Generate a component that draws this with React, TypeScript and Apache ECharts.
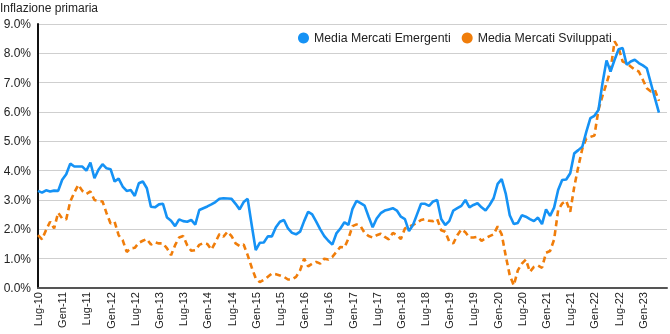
import React, { useEffect, useRef } from "react";
import * as echarts from "echarts";

const MONTHS_IT = ["Gen", "Feb", "Mar", "Apr", "Mag", "Giu", "Lug", "Ago", "Set", "Ott", "Nov", "Dic"];
// Monthly categories Jul-2010 .. Jul-2023
const categories: string[] = [];
for (let k = 0; k < 157; k++) {
  const m = (6 + k) % 12;
  const y = 10 + Math.floor((6 + k) / 12);
  categories.push(`${MONTHS_IT[m]}-${y}`);
}

const emergenti: number[] = [
  3.31, 3.25, 3.33, 3.29, 3.32, 3.31, 3.69, 3.88, 4.24, 4.14, 4.14, 4.14, 4.0, 4.28, 3.74, 4.03, 4.22, 4.08, 4.05, 3.63,
  3.73, 3.46, 3.31, 3.34, 3.14, 3.57, 3.63, 3.40, 2.77, 2.75, 2.85, 2.87, 2.40, 2.29, 2.11, 2.34, 2.28, 2.26, 2.32, 2.16,
  2.66, 2.72, 2.78, 2.85, 2.93, 3.04, 3.06, 3.05, 3.04, 2.87, 2.68, 2.93, 3.04, 2.15, 1.29, 1.54, 1.55, 1.76, 1.76, 2.07,
  2.26, 2.32, 2.03, 1.88, 1.83, 1.92, 2.28, 2.60, 2.51, 2.26, 2.0, 1.77, 1.61, 1.48, 1.86, 2.03, 2.24, 2.15, 2.70, 2.97,
  2.89, 2.81, 2.43, 2.07, 2.37, 2.55, 2.64, 2.68, 2.72, 2.64, 2.43, 2.35, 1.94, 2.15, 2.51, 2.87, 2.87, 2.80, 2.95, 3.0,
  2.35, 2.15, 2.28, 2.64, 2.72, 2.80, 3.0, 2.75, 2.83, 2.89, 2.75, 2.64, 2.83, 3.06, 3.55, 3.71, 3.22, 2.48, 2.18, 2.22,
  2.48, 2.43, 2.35, 2.28, 2.40, 2.18, 2.68, 2.46, 2.74, 3.34, 3.68, 3.70, 3.91, 4.59, 4.70, 4.82, 5.33, 5.79, 5.87, 6.07,
  6.98, 7.76, 7.38, 7.78, 8.14, 8.18, 7.61, 7.72, 7.78, 7.67, 7.59, 7.49, 6.98, 6.47, 5.98,
];

const sviluppati: number[] = [
  1.80, 1.66, 1.98, 2.26, 2.03, 2.57, 2.37, 2.34, 2.95, 3.25, 3.52, 3.31, 3.21, 3.29, 3.0, 2.97, 2.95, 2.55, 2.20, 2.26,
  1.80, 1.63, 1.23, 1.35, 1.37, 1.54, 1.61, 1.67, 1.48, 1.56, 1.52, 1.52, 1.35, 1.12, 1.46, 1.72, 1.77, 1.46, 1.27, 1.29,
  1.47, 1.53, 1.50, 1.31, 1.56, 1.84, 1.75, 1.92, 1.77, 1.52, 1.43, 1.48, 1.12, 0.70, 0.33, 0.20, 0.28, 0.38, 0.49, 0.47,
  0.43, 0.38, 0.29, 0.29, 0.38, 0.60, 1.0, 0.74, 0.83, 0.89, 0.83, 1.0, 0.97, 1.06, 1.23, 1.40, 1.38, 1.69, 2.11, 2.17,
  2.11, 1.88, 1.77, 1.72, 1.80, 1.85, 1.74, 1.66, 1.88, 1.80, 1.67, 2.03, 2.09, 2.15, 2.22, 2.32, 2.35, 2.29, 2.28, 2.35,
  1.97, 1.92, 1.58, 1.52, 1.80, 2.0, 1.90, 1.72, 1.72, 1.75, 1.61, 1.69, 1.77, 1.83, 2.10, 1.83, 1.10, 0.43, 0.09, 0.60,
  0.83, 0.97, 0.55, 0.72, 0.77, 0.69, 1.20, 1.26, 1.65, 2.65, 2.88, 2.97, 2.60, 3.45, 4.13, 4.75, 5.10, 5.15, 5.20, 6.07,
  6.55, 6.98, 7.44, 8.41, 8.18, 7.72, 7.67, 7.55, 7.44, 7.38, 7.10, 6.81, 6.70, 6.75, 6.38,
];

const yTicks = [0, 1, 2, 3, 4, 5, 6, 7, 8, 9];
const LAST_LABEL_INDEX = 150;

const BLUE = "#1592f5";
const ORANGE = "#f07d0a";
const FONT = "Liberation Sans, Arial, sans-serif";

export default function App() {
  const ref = useRef<HTMLDivElement>(null);
  useEffect(() => {
    if (!ref.current) return;
    const chart = echarts.init(ref.current, undefined, { renderer: "svg" });
    chart.setOption({
      animation: false,
      textStyle: { fontFamily: FONT },
      title: {
        text: "Inflazione primaria",
        left: 0,
        top: 2,
        padding: 0,
        textStyle: { fontSize: 12, fontWeight: "normal", color: "#222", fontFamily: FONT },
      },
      legend: {
        left: 298,
        top: 32,
        padding: 0,
        icon: "circle",
        itemWidth: 11,
        itemHeight: 11,
        itemGap: 11,
        textStyle: { fontSize: 12.3, color: "#222", fontFamily: FONT },
        data: ["Media Mercati Emergenti", "Media Mercati Sviluppati"],
      },
      grid: { left: 38, right: 3, top: 24, bottom: 46, containLabel: false },
      xAxis: {
        type: "category",
        data: categories,
        boundaryGap: false,
        axisLine: { show: true, lineStyle: { color: "#555", width: 2 } },
        axisTick: { show: false },
        axisLabel: {
          rotate: 90,
          fontSize: 11,
          color: "#222",
          margin: 4,
          fontFamily: FONT,
          interval: (index: number) => index % 6 === 0 && index <= LAST_LABEL_INDEX,
        },
        splitLine: { show: false },
      },
      yAxis: {
        type: "value",
        min: yTicks[0],
        max: yTicks[yTicks.length - 1],
        interval: 1,
        axisLine: { show: true, lineStyle: { color: "#111", width: 2 } },
        axisTick: { show: false },
        axisLabel: {
          fontSize: 12,
          color: "#222",
          margin: 7,
          fontFamily: FONT,
          formatter: (v: number) => v.toFixed(1) + "%",
        },
        splitLine: { show: true, lineStyle: { color: "#cfcfcf", width: 1 } },
      },
      series: [
        {
          name: "Media Mercati Emergenti",
          type: "line",
          data: emergenti,
          symbol: "none",
          color: BLUE,
          lineStyle: { color: BLUE, width: 2.6 },
          z: 3,
        },
        {
          name: "Media Mercati Sviluppati",
          type: "line",
          data: sviluppati,
          symbol: "none",
          color: ORANGE,
          lineStyle: { color: ORANGE, width: 2.6, type: [6, 4] },
          z: 2,
        },
      ],
    });
    return () => chart.dispose();
  }, []);
  return (
    <div
      ref={ref}
      style={{ position: "fixed", left: 0, top: 0, width: 670, height: 334 }}
    />
  );
}
